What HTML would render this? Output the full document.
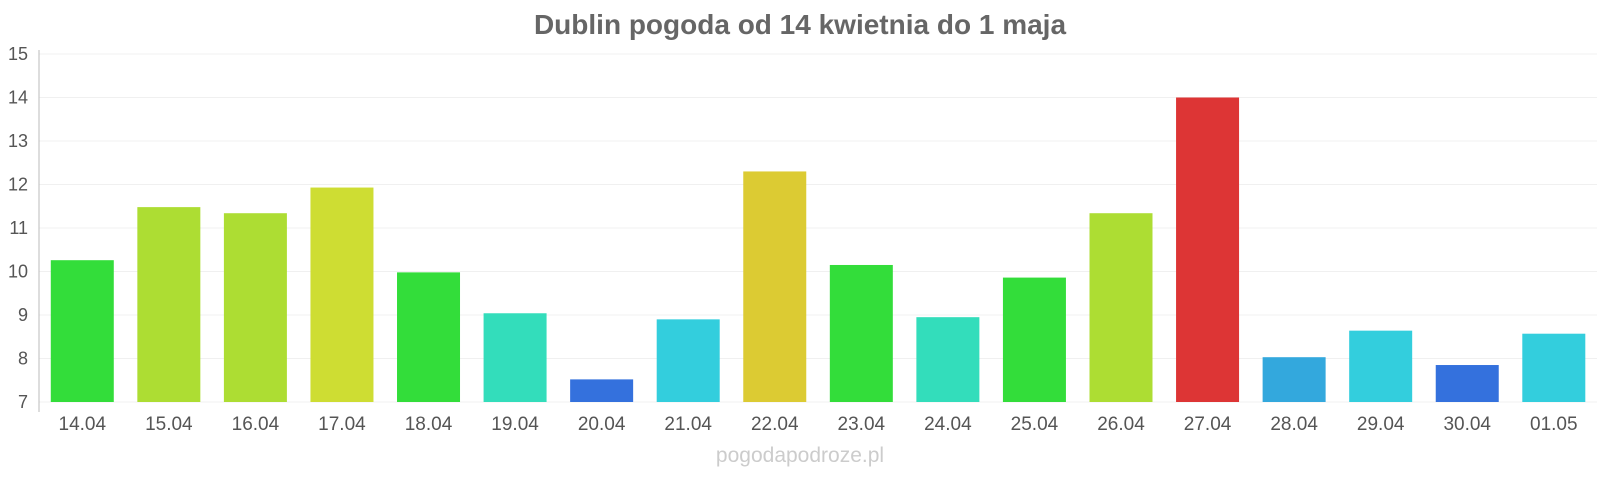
<!DOCTYPE html>
<html><head><meta charset="utf-8"><style>
body{margin:0;background:#fff;}
svg{display:block;font-family:"Liberation Sans",sans-serif;}
</style></head><body>
<svg width="1600" height="480" viewBox="0 0 1600 480">
<text x="800" y="34" text-anchor="middle" font-size="28" font-weight="bold" fill="#666">Dublin pogoda od 14 kwietnia do 1 maja</text>
<g id="grid"></g>
<g id="bars"></g>
<line x1="39" y1="50" x2="39" y2="412" stroke="#bbb" stroke-width="1"/>
<text x="800" y="462" text-anchor="middle" font-size="21" fill="#ccc">pogodapodroze.pl</text>
<script>
var top15=54, unit=43.5, base=402;
var g=document.getElementById('grid'), b=document.getElementById('bars'), ns='http://www.w3.org/2000/svg';
function el(p,t,a,txt){var e=document.createElementNS(ns,t);for(var k in a)e.setAttribute(k,a[k]);if(txt)e.textContent=txt;p.appendChild(e);}
for(var v=7;v<=15;v++){var y=base-(v-7)*unit;el(g,'line',{x1:39,x2:1597,y1:y,y2:y,stroke:'#f0f0f0','stroke-width':1});el(g,'text',{x:28,y:y+6,'text-anchor':'end','font-size':18,fill:'#555'},String(v));}
var d=[["14.04",10.26,"#33dd3a"],["15.04",11.48,"#addd33"],["16.04",11.34,"#addd33"],["17.04",11.93,"#cedd33"],["18.04",9.98,"#33dd3a"],["19.04",9.04,"#33ddbb"],["20.04",7.52,"#3471dd"],["21.04",8.9,"#33cedd"],["22.04",12.3,"#dccb33"],["23.04",10.15,"#33dd3a"],["24.04",8.95,"#33ddbb"],["25.04",9.86,"#33dd3a"],["26.04",11.34,"#addd33"],["27.04",14.0,"#dd3535"],["28.04",8.03,"#33a8dd"],["29.04",8.64,"#33cedd"],["30.04",7.85,"#3471dd"],["01.05",8.57,"#33cedd"]];
var bw=86.56;
d.forEach(function(r,i){var c=39+bw*(i+0.5);var y=base-(r[1]-7)*unit;el(b,'rect',{x:c-31.5,y:y,width:63,height:base-y,fill:r[2]});el(b,'text',{x:c,y:430,'text-anchor':'middle','font-size':19,fill:'#555'},r[0]);});
</script>
</svg>
</body></html>
